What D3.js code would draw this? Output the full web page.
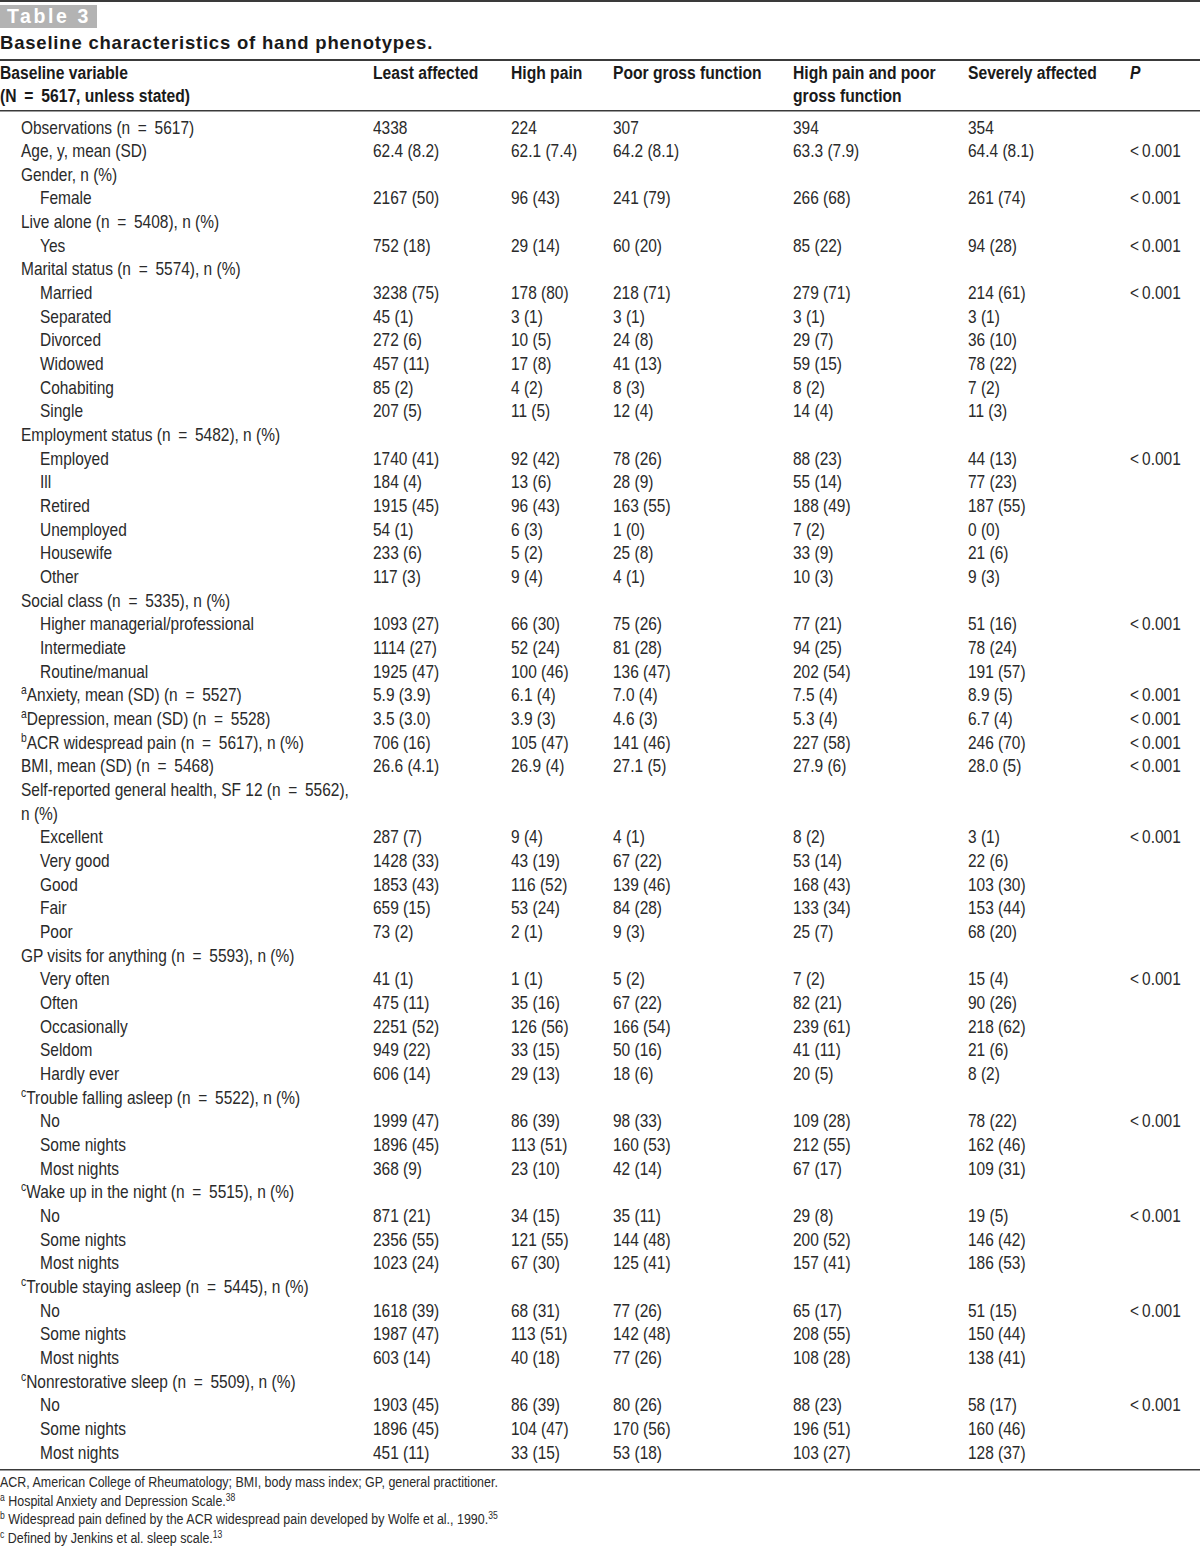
<!DOCTYPE html>
<html>
<head>
<meta charset="utf-8">
<style>
  body { margin: 0; background: #fff; }
  svg { display: block; }
  text { font-family: "Liberation Sans", Arial, sans-serif; }
</style>
</head>
<body>
<svg width="1200" height="1546"></svg>
<script src="https://d3js.org/d3.v7.min.js"></script>
<script>

var svg = d3.select("svg"),
    width = +svg.attr("width"),
    height = +svg.attr("height");

// row labels, with indent level (1 = variable, 2 = category). "^x" marks a superscript
var labels = [
  ["Observations (n = 5617)", 1],
  ["Age, y, mean (SD)", 1],
  ["Gender, n (%)", 1],
  ["Female", 2],
  ["Live alone (n = 5408), n (%)", 1],
  ["Yes", 2],
  ["Marital status (n = 5574), n (%)", 1],
  ["Married", 2], ["Separated", 2], ["Divorced", 2], ["Widowed", 2], ["Cohabiting", 2], ["Single", 2],
  ["Employment status (n = 5482), n (%)", 1],
  ["Employed", 2], ["Ill", 2], ["Retired", 2], ["Unemployed", 2], ["Housewife", 2], ["Other", 2],
  ["Social class (n = 5335), n (%)", 1],
  ["Higher managerial/professional", 2], ["Intermediate", 2], ["Routine/manual", 2],
  ["^aAnxiety, mean (SD) (n = 5527)", 1],
  ["^aDepression, mean (SD) (n = 5528)", 1],
  ["^bACR widespread pain (n = 5617), n (%)", 1],
  ["BMI, mean (SD) (n = 5468)", 1],
  ["Self-reported general health, SF 12 (n = 5562),", 1],
  ["n (%)", 1],
  ["Excellent", 2], ["Very good", 2], ["Good", 2], ["Fair", 2], ["Poor", 2],
  ["GP visits for anything (n = 5593), n (%)", 1],
  ["Very often", 2], ["Often", 2], ["Occasionally", 2], ["Seldom", 2], ["Hardly ever", 2],
  ["^cTrouble falling asleep (n = 5522), n (%)", 1],
  ["No", 2], ["Some nights", 2], ["Most nights", 2],
  ["^cWake up in the night (n = 5515), n (%)", 1],
  ["No", 2], ["Some nights", 2], ["Most nights", 2],
  ["^cTrouble staying asleep (n = 5445), n (%)", 1],
  ["No", 2], ["Some nights", 2], ["Most nights", 2],
  ["^cNonrestorative sleep (n = 5509), n (%)", 1],
  ["No", 2], ["Some nights", 2], ["Most nights", 2]
];

var leastAffected = ["4338", "62.4 (8.2)", "", "2167 (50)", "", "752 (18)", "",
  "3238 (75)", "45 (1)", "272 (6)", "457 (11)", "85 (2)", "207 (5)", "",
  "1740 (41)", "184 (4)", "1915 (45)", "54 (1)", "233 (6)", "117 (3)", "",
  "1093 (27)", "1114 (27)", "1925 (47)", "5.9 (3.9)", "3.5 (3.0)", "706 (16)", "26.6 (4.1)", "", "",
  "287 (7)", "1428 (33)", "1853 (43)", "659 (15)", "73 (2)", "",
  "41 (1)", "475 (11)", "2251 (52)", "949 (22)", "606 (14)", "",
  "1999 (47)", "1896 (45)", "368 (9)", "", "871 (21)", "2356 (55)", "1023 (24)", "",
  "1618 (39)", "1987 (47)", "603 (14)", "", "1903 (45)", "1896 (45)", "451 (11)"];

var highPain = ["224", "62.1 (7.4)", "", "96 (43)", "", "29 (14)", "",
  "178 (80)", "3 (1)", "10 (5)", "17 (8)", "4 (2)", "11 (5)", "",
  "92 (42)", "13 (6)", "96 (43)", "6 (3)", "5 (2)", "9 (4)", "",
  "66 (30)", "52 (24)", "100 (46)", "6.1 (4)", "3.9 (3)", "105 (47)", "26.9 (4)", "", "",
  "9 (4)", "43 (19)", "116 (52)", "53 (24)", "2 (1)", "",
  "1 (1)", "35 (16)", "126 (56)", "33 (15)", "29 (13)", "",
  "86 (39)", "113 (51)", "23 (10)", "", "34 (15)", "121 (55)", "67 (30)", "",
  "68 (31)", "113 (51)", "40 (18)", "", "86 (39)", "104 (47)", "33 (15)"];

var poorGross = ["307", "64.2 (8.1)", "", "241 (79)", "", "60 (20)", "",
  "218 (71)", "3 (1)", "24 (8)", "41 (13)", "8 (3)", "12 (4)", "",
  "78 (26)", "28 (9)", "163 (55)", "1 (0)", "25 (8)", "4 (1)", "",
  "75 (26)", "81 (28)", "136 (47)", "7.0 (4)", "4.6 (3)", "141 (46)", "27.1 (5)", "", "",
  "4 (1)", "67 (22)", "139 (46)", "84 (28)", "9 (3)", "",
  "5 (2)", "67 (22)", "166 (54)", "50 (16)", "18 (6)", "",
  "98 (33)", "160 (53)", "42 (14)", "", "35 (11)", "144 (48)", "125 (41)", "",
  "77 (26)", "142 (48)", "77 (26)", "", "80 (26)", "170 (56)", "53 (18)"];

var highPainPoorGross = ["394", "63.3 (7.9)", "", "266 (68)", "", "85 (22)", "",
  "279 (71)", "3 (1)", "29 (7)", "59 (15)", "8 (2)", "14 (4)", "",
  "88 (23)", "55 (14)", "188 (49)", "7 (2)", "33 (9)", "10 (3)", "",
  "77 (21)", "94 (25)", "202 (54)", "7.5 (4)", "5.3 (4)", "227 (58)", "27.9 (6)", "", "",
  "8 (2)", "53 (14)", "168 (43)", "133 (34)", "25 (7)", "",
  "7 (2)", "82 (21)", "239 (61)", "41 (11)", "20 (5)", "",
  "109 (28)", "212 (55)", "67 (17)", "", "29 (8)", "200 (52)", "157 (41)", "",
  "65 (17)", "208 (55)", "108 (28)", "", "88 (23)", "196 (51)", "103 (27)"];

var severelyAffected = ["354", "64.4 (8.1)", "", "261 (74)", "", "94 (28)", "",
  "214 (61)", "3 (1)", "36 (10)", "78 (22)", "7 (2)", "11 (3)", "",
  "44 (13)", "77 (23)", "187 (55)", "0 (0)", "21 (6)", "9 (3)", "",
  "51 (16)", "78 (24)", "191 (57)", "8.9 (5)", "6.7 (4)", "246 (70)", "28.0 (5)", "", "",
  "3 (1)", "22 (6)", "103 (30)", "153 (44)", "68 (20)", "",
  "15 (4)", "90 (26)", "218 (62)", "21 (6)", "8 (2)", "",
  "78 (22)", "162 (46)", "109 (31)", "", "19 (5)", "146 (42)", "186 (53)", "",
  "51 (15)", "150 (44)", "138 (41)", "", "58 (17)", "160 (46)", "128 (37)"];

// rows that carry a P value
var pRows = [1, 3, 5, 7, 14, 21, 24, 25, 26, 27, 30, 36, 42, 46, 50, 54];
var pText = "<0.001";

var headers = [["Baseline variable", "(N = 5617, unless stated)"], ["Least affected"], ["High pain"],
  ["Poor gross function"], ["High pain and poor", "gross function"], ["Severely affected"], ["P"]];

var footnotes = [
  ["", "ACR, American College of Rheumatology; BMI, body mass index; GP, general practitioner.", ""],
  ["a", " Hospital Anxiety and Depression Scale.", "38"],
  ["b", " Widespread pain defined by the ACR widespread pain developed by Wolfe et al., 1990.", "35"],
  ["c", " Defined by Jenkins et al. sleep scale.", "13"]
];

var columns = [leastAffected, highPain, poorGross, highPainPoorGross, severelyAffected];

var ink = "#2a2a2a", rule = "#3a3a3a";
var squeeze = 0.86;   // condensed look: horizontal squash of the body face

// scales
var x = d3.scaleOrdinal()
    .domain(d3.range(headers.length))
    .range([0, 373, 511, 613, 793, 968, 1130]);
var indent = d3.scaleOrdinal().domain([1, 2]).range([21, 40]);
var y = d3.scaleLinear().domain([0, labels.length - 1]).range([133.5, 1458.5]);

function place(xx, yy, k) {
  return "translate(" + xx + "," + yy + ") scale(" + k + ",1)";
}
// typeset maths signs with the wide spacing of the original
function typeset(s) {
  return s.replace(/ = /g, "\u2002=\u2002").replace(/^</, "<\u2009");
}

// top rule and "Table 3" tag
svg.append("rect").attr("x", 0).attr("y", 0).attr("width", width).attr("height", 2).attr("fill", rule);
svg.append("rect").attr("x", 0).attr("y", 5).attr("width", 97).attr("height", 23).attr("fill", "#b3b3b3");
svg.append("text").attr("x", 7).attr("y", 23)
    .attr("font-weight", "bold").attr("font-size", 19.5).attr("letter-spacing", 2.6).attr("fill", "#fff")
    .text("Table 3");

svg.append("text").attr("x", 0).attr("y", 48.5)
    .attr("font-weight", "bold").attr("font-size", 18.5).attr("letter-spacing", 0.8).attr("fill", "#1a1a1a")
    .text("Baseline characteristics of hand phenotypes.");

svg.append("rect").attr("x", 0).attr("y", 59).attr("width", width).attr("height", 2).attr("fill", rule);
svg.append("rect").attr("x", 0).attr("y", 110).attr("width", width).attr("height", 1.5).attr("fill", rule);
svg.append("rect").attr("x", 0).attr("y", 1469).attr("width", width).attr("height", 1.5).attr("fill", rule);

// header
var head = svg.append("g")
    .attr("font-weight", "bold").attr("font-size", 18).attr("fill", "#1a1a1a");
headers.forEach(function(lines, i) {
  lines.forEach(function(t, j) {
    head.append("text").attr("transform", place(x(i), 79 + j * 23, 0.87))
        .attr("font-style", i === 6 ? "italic" : null)
        .text(typeset(t));
  });
});

// body
var body = svg.append("g").attr("font-size", 18).attr("fill", ink);

body.selectAll(".label")
  .data(labels)
  .enter().append("text")
    .attr("class", "label")
    .attr("transform", function(d, i) { return place(indent(d[1]), y(i), squeeze); })
    .each(function(d) {
      var t = d3.select(this), m = /^\^(\w)(.*)$/.exec(d[0]);
      if (m) {
        t.append("tspan").attr("font-size", 12).attr("dy", -7).text(m[1]);
        t.append("tspan").attr("dy", 7).text(typeset(m[2]));
      } else {
        t.text(typeset(d[0]));
      }
    });

columns.forEach(function(col, c) {
  body.selectAll(".c" + c)
    .data(col)
    .enter().append("text")
      .attr("class", "c" + c)
      .attr("transform", function(d, i) { return place(x(c + 1), y(i), squeeze); })
      .text(function(d) { return d; });
});

body.selectAll(".p")
  .data(pRows)
  .enter().append("text")
    .attr("class", "p")
    .attr("transform", function(d) { return place(x(6), y(d), squeeze); })
    .text(typeset(pText));

// footnotes
var foot = svg.append("g").attr("font-size", 14.5).attr("fill", ink);
footnotes.forEach(function(f, i) {
  var t = foot.append("text").attr("transform", place(0, 1487 + i * 18.5, squeeze));
  if (f[0]) t.append("tspan").attr("font-size", 10).attr("dy", -5).text(f[0]);
  t.append("tspan").attr("dy", f[0] ? 5 : 0).text(f[1]);
  if (f[2]) t.append("tspan").attr("font-size", 10).attr("dy", -5).text(f[2]);
});

</script>
</body>
</html>
